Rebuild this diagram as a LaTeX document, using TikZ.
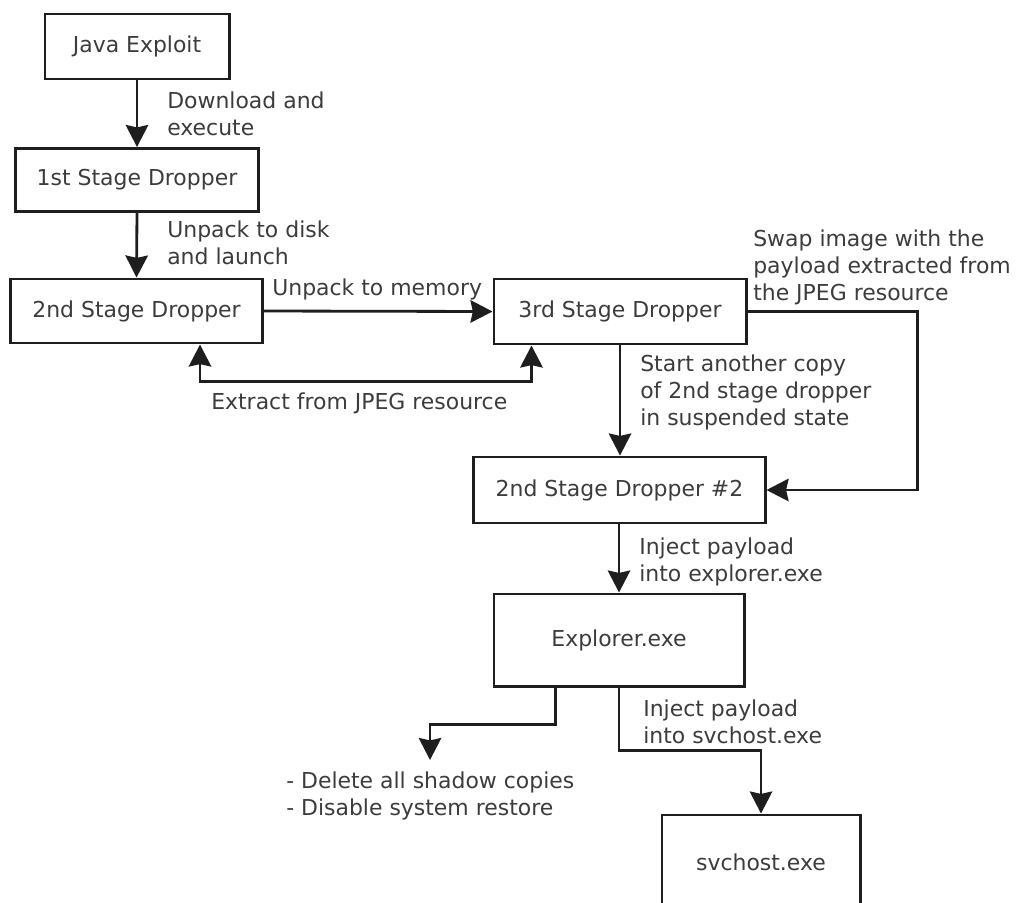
\documentclass[tikz,border=0pt]{standalone}
\usepackage{fontspec}
\setmainfont{DejaVu Sans}
\usepackage{tikz}
\usetikzlibrary{arrows.meta,positioning,calc}
\definecolor{drline}{HTML}{1E1E1E}
\definecolor{drtext}{HTML}{3C3C3C}

\begin{document}
\begin{tikzpicture}[x=0.025cm,y=-0.025cm,
  stagebox/.style={draw=drline,line width=2.1pt,text=drtext,inner sep=0pt,
    font=\fontsize{15.6pt}{19.2pt}\selectfont},
  flow/.style={drline,line width=2pt,-{Stealth[length=0.55cm,width=0.56cm,inset=0.06cm]}},
  note/.style={drtext,anchor=west,align=left,inner sep=0pt,
    font=\fontsize{15.6pt}{19.2pt}\selectfont}]
\clip (0,0) rectangle (1016,902);
% stages
\node[stagebox,minimum width=4.6cm,minimum height=1.625cm] (java) at (137,46.5) {Java Exploit};
\node[stagebox,minimum width=6.05cm,minimum height=1.575cm] (first) at (137,180) {1st Stage Dropper};
\node[stagebox,minimum width=6.275cm,minimum height=1.6cm] (second) at (136.5,311) {2nd Stage Dropper};
\node[stagebox,minimum width=6.3cm,minimum height=1.625cm] (third) at (620,311.5) {3rd Stage Dropper};
\node[stagebox,minimum width=7.275cm,minimum height=1.65cm] (secondtwo) at (619.5,490) {2nd Stage Dropper \#2};
\node[stagebox,minimum width=6.25cm,minimum height=2.3cm] (explorer) at (619,640) {Explorer.exe};
\node[stagebox,minimum width=4.95cm,minimum height=2.35cm] (svchost) at (761,862) {svchost.exe};
\coordinate (delend) at (430,760);

% steps
\draw[flow] (java.south) -- (first.north);
\draw[flow] (first.south) -- (second.north);
\draw[flow] (second.east) -- (third.west);
\draw[flow,{Stealth[length=0.55cm,width=0.56cm,inset=0.06cm]}-{Stealth[length=0.55cm,width=0.56cm,inset=0.06cm]}]
  ($(second.south)+(63.5,0)$) -- ++(0,37) -| ($(third.south west)+(39,0)$);
\draw[flow] (third.east) -- ++(170,0) |- (secondtwo.east);
\draw[flow] (third.south) -- (third.south |- secondtwo.north);
\draw[flow] (secondtwo.south -| explorer.north) -- (explorer.north);
\draw[flow] ($(explorer.south west)+(63,0)$) -- ++(0,37) -| (delend);
\draw[flow] (explorer.south) -- ++(0,63) -| (svchost.north);

% labels
\node[note] (dl) at (167,114) {Download and\\execute};
\node[note] (ul) at (167,242.5) {Unpack to disk\\and launch};
\node[note] (mem) at (272,289) {Unpack to memory};
\node[note] (ext) at (211,403) {Extract from JPEG resource};
\node[note] (swap) at (753,267) {Swap image with the\\payload extracted from\\the JPEG resource};
\node[note] (start) at (640,392) {Start another copy\\of 2nd stage dropper\\in suspended state};
\node[note] (injexp) at (639,561.5) {Inject payload\\into explorer.exe};
\node[note] (injsvc) at (643,721.5) {Inject payload\\into svchost.exe};
\node[note] (dellist) at (286,796) {- Delete all shadow copies\\- Disable system restore};
\end{tikzpicture}
\end{document}
